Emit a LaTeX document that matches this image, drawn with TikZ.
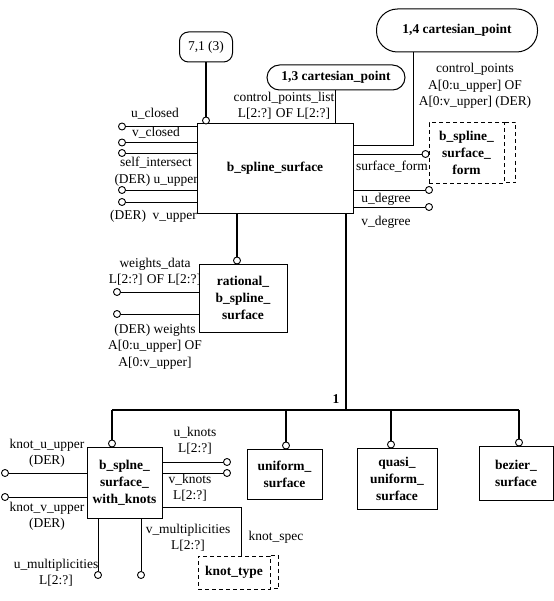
\documentclass[tikz,border=0pt]{standalone}
\usepackage{fontspec}
\setmainfont{Liberation Serif}
\begin{document}
\begin{tikzpicture}[x=1bp,y=-1bp,
  ent/.style={draw, line width=1bp, fill=white, align=center, inner sep=0, font=\fontsize{13.5}{17}\selectfont\bfseries},
  dent/.style={ent, dash pattern=on 4bp off 3bp},
  lbl/.style={inner sep=0, align=center, font=\fontsize{13.5}{16.5}\selectfont},
  pin/.style={circle, draw, fill=white, line width=0.9bp, inner sep=0, minimum size=7bp},
  rel/.style={line width=1.7bp},
  attr/.style={line width=0.9bp}]
\useasboundingbox (0,0) rectangle (554,601);

% ---------- entities ----------
\node[ent, rounded corners=9bp, minimum width=53bp, minimum height=30bp, font=\fontsize{13.5}{17}\selectfont] (n71) at (206,47) {7,1 (3)};
\node[ent, rounded corners=12.5bp, minimum width=138bp, minimum height=25bp] (cp13) at (336,77.5) {1,3 cartesian\_point};
\node[ent, rounded corners=21bp, minimum width=161bp, minimum height=43bp] (cp14) at (457,30.5) {1,4 cartesian\_point};
\node[ent, minimum width=156bp, minimum height=89bp] (sbs) at (275,168.5) {b\_spline\_surface};
\node[dent, minimum width=75bp, minimum height=60bp] (bssf) at (466.5,153) {b\_spline\_\\surface\_\\form};
\node[ent, minimum width=88bp, minimum height=68bp] (rbs) at (243,298) {rational\_\\b\_spline\_\\surface};
\node[ent, minimum width=75bp, minimum height=71bp] (sbk) at (124.5,482.5) {b\_splne\_\\surface\_\\with\_knots};
\node[ent, minimum width=75bp, minimum height=50bp] (us) at (284.5,474) {uniform\_\\surface};
\node[ent, minimum width=80bp, minimum height=61bp] (qus) at (397,478.5) {quasi\_\\uniform\_\\surface};
\node[ent, minimum width=74bp, minimum height=54bp] (bz) at (516,473) {bezier\_\\surface};
\node[dent, minimum width=72bp, minimum height=33bp] (kt) at (234,572.5) {knot\_type};

% double right edges of the defined types
\draw[line width=1bp, dash pattern=on 4bp off 3bp] (bssf.north east) -- ++(11,0) -- ++(0,60) -- ++(-11,0);
\draw[line width=1bp, dash pattern=on 4bp off 3bp] (kt.north east) -- ++(8,0) -- ++(0,33) -- ++(-8,0);

% ---------- relationship lines (thick) ----------
\node[pin] (p71) at (206,120.5) {};
\draw[rel] (n71.south) -- (p71);

\node[pin] (prbs) at (237,260.5) {};
\draw[rel] (prbs |- sbs.south) -- (prbs);

\coordinate (bj) at (346,410);
\coordinate (bl) at (112,410);
\coordinate (br) at (519,410);
\draw[rel] (bj |- sbs.south) -- (bj);
\draw[rel] (bl) -- (br);
\node[font=\fontsize{13.5}{16}\selectfont\bfseries, inner sep=0] (one) at (336,399) {1};

\node[pin] (psbk) at (112,443.5) {};
\node[pin] (pus) at (286,445.5) {};
\node[pin] (pqus) at (391,444.5) {};
\node[pin] (pbz) at (519,442.5) {};
\draw[rel] (bl) -- (psbk);
\draw[rel] (pus |- bl) -- (pus);
\draw[rel] (pqus |- bl) -- (pqus);
\draw[rel] (pbz |- bl) -- (pbz);

% ---------- attributes of b_spline_surface ----------
\draw[attr] (cp13.south -| 335,0) -- (sbs.north -| 335,0);
\coordinate (k14) at (413,145);
\draw[attr] (cp14.south -| k14) -- (k14) -- (k14 -| sbs.east);
\node[lbl] (lcpl) at (284,105.5) {control\_points\_list\\L[2:?] OF L[2:?]};
\node[lbl] (lcp) at (475,86) {control\_points\\A[0:u\_upper] OF\\A[0:v\_upper] (DER)};

\node[pin] (a1) at (122,126.5) {};
\node[pin] (a2) at (122,142.5) {};
\node[pin] (a3) at (122,153) {};
\node[pin] (a4) at (122,190) {};
\node[pin] (a5) at (122,202) {};
\foreach \p in {a1,a2,a3,a4,a5} \draw[attr] (\p) -- (\p -| sbs.west);
\node[lbl] (la1) at (155,114) {u\_closed};
\node[lbl] (la2) at (156,133) {v\_closed};
\node[lbl] (la3) at (156,163) {self\_intersect};
\node[lbl, anchor=east] (la4) at (198,180) {(DER) u\_upper};
\node[lbl, anchor=east] (la5) at (197,216) {(DER)\ \ v\_upper};

\node[pin] (b1) at (425.5,154) {};
\node[pin] (b2) at (429,190) {};
\node[pin] (b3) at (429,207) {};
\foreach \p in {b1,b2,b3} \draw[attr] (\p -| sbs.east) -- (\p);
\node[lbl] (lb1) at (392,167) {surface\_form};
\node[lbl] (lb2) at (386,199) {u\_degree};
\node[lbl] (lb3) at (386,222) {v\_degree};

% ---------- attributes of rational_b_spline_surface ----------
\node[pin] (r1) at (117,292) {};
\node[pin] (r2) at (117,314) {};
\foreach \p in {r1,r2} \draw[attr] (\p) -- (\p -| rbs.west);
\node[lbl] (lr1) at (155,271.5) {weights\_data\\L[2:?] OF L[2:?]};
\node[lbl] (lr2) at (155,346.5) {(DER) weights\\A[0:u\_upper] OF\\A[0:v\_upper]};

% ---------- attributes of b_splne_surface_with_knots ----------
\node[pin] (k1) at (5,473) {};
\node[pin] (k2) at (5,497) {};
\foreach \p in {k1,k2} \draw[attr] (\p) -- (\p -| sbk.west);
\node[lbl] (lk1) at (47,453.5) {knot\_u\_upper\\(DER)};
\node[lbl] (lk2) at (47,516) {knot\_v\_upper\\(DER)};

\node[pin] (k3) at (227,462) {};
\node[pin] (k4) at (227,473) {};
\foreach \p in {k3,k4} \draw[attr] (\p -| sbk.east) -- (\p);
\node[lbl] (lk3) at (195,441) {u\_knots\\L[2:?]};
\node[lbl] (lk4) at (190,487.5) {v\_knots\\L[2:?]};

\coordinate (ks) at (241,507);
\draw[attr] (ks -| sbk.east) -- (ks) -- (ks |- kt.north);
\node[lbl] (lks) at (276,537) {knot\_spec};

\node[pin] (k5) at (98,575) {};
\node[pin] (k6) at (141,575) {};
\foreach \p in {k5,k6} \draw[attr] (\p |- sbk.south) -- (\p);
\node[lbl] (lk5) at (56,573) {u\_multiplicities\\L[2:?]};
\node[lbl] (lk6) at (188,537.5) {v\_multiplicities\\L[2:?]};
\end{tikzpicture}
\end{document}
